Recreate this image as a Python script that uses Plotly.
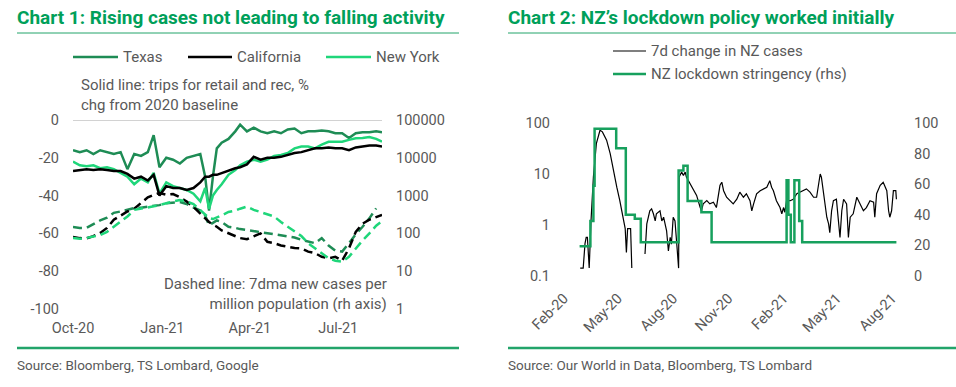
import plotly.graph_objects as go

# ---------------- DATA ----------------
# Chart 1: weekly observations
c1_dates = ["2020-10-01","2020-10-08","2020-10-15","2020-10-22","2020-10-29","2020-11-05","2020-11-12",
            "2020-11-19","2020-11-26","2020-12-03","2020-12-10","2020-12-17","2020-12-23","2020-12-29",
            "2021-01-05","2021-01-12","2021-01-19","2021-01-26","2021-02-02","2021-02-09","2021-02-14",
            "2021-02-18","2021-02-22","2021-02-26","2021-03-03","2021-03-10","2021-03-17","2021-03-22",
            "2021-03-29","2021-04-05","2021-04-12","2021-04-19","2021-04-26","2021-05-03","2021-05-10",
            "2021-05-17","2021-05-24","2021-05-31","2021-06-07","2021-06-14","2021-06-21","2021-06-28",
            "2021-07-05","2021-07-12","2021-07-19","2021-07-26","2021-08-02","2021-08-09","2021-08-15"]

texas_trips = [-16,-17,-16,-18,-16,-17,-18,-17,-26,-18,-19,-17,-8,-25,-20,-21,-23,-20,-19,-18,-30,
               -48,-30,-15,-12,-10,-6,-2.5,-6,-4,-6,-7,-6,-7,-5,-4.5,-7,-6,-6,-5.5,-6,-7,-7,-9.5,
               -7,-6.5,-6.5,-6,-6.5]
california_trips = [-27,-26.5,-26,-26.5,-26,-26.5,-27,-27,-28.5,-31,-30,-32,-29,-40,-35,-36,-36,-37,-36,
                    -33,-30,-30,-29,-29,-28,-26.5,-25.5,-25,-23.5,-19.5,-21,-20,-20,-19.5,-18.5,-17.5,
                    -17,-16,-15,-15,-14.5,-15,-15,-16,-14.5,-14,-13.5,-13.5,-14]
newyork_trips = [-22,-24,-24.5,-24,-25.5,-25,-26,-28,-30,-34,-31,-33,-28,-39,-33,-35,-36,-37,-39,-43,
                 -36,-47,-40,-37,-34,-29,-26.5,-24,-22,-21,-22,-21,-19,-18.5,-17.5,-15,-14,-14,-15,
                 -13,-11.5,-11.5,-11.5,-10.5,-9.7,-9.5,-9,-10,-11.5]

texas_cases = [148,140,140,180,220,260,350,380,420,470,480,500,520,560,630,650,680,600,500,400,300,
               165,190,220,200,150,140,130,123,115,110,105,95,90,85,78,68,60,55,75,48,35,33,55,95,
               150,250,460,None]
california_cases = [81,75,74,85,103,140,230,300,380,450,650,900,1050,1170,1050,1100,900,700,500,330,
                    260,200,170,150,120,100,85,75,70,85,100,60,55,48,44,41,40,33,30,24,22,24,19,40,
                    110,180,230,270,310]
newyork_cases = [76,72,76,82,90,110,150,200,280,420,460,500,520,560,630,700,760,700,600,420,320,255,
                 240,260,300,370,400,450,510,420,370,330,280,200,150,110,85,55,40,30,22,19,18,24,40,
                 65,100,160,210]

c1_left_ticks = [-100, -80, -60, -40, -20, 0]
c1_right_ticks = [1, 10, 100, 1000, 10000, 100000]

# Chart 2: NZ 7-day average new cases (None = zero cases, gap on log axis)
nz_case_dates = ["2020-02-28","2020-03-04","2020-03-07","2020-03-09","2020-03-11","2020-03-13","2020-03-14",
                 "2020-03-17","2020-03-21","2020-03-26","2020-04-01","2020-04-05","2020-04-12","2020-04-18",
                 "2020-04-23","2020-04-29","2020-05-04","2020-05-10","2020-05-13","2020-05-15","2020-05-17",
                 "2020-05-22","2020-05-24","2020-06-01",
                 "2020-06-15","2020-06-18","2020-06-23","2020-06-26","2020-06-29","2020-07-02","2020-07-04",
                 "2020-07-10","2020-07-13","2020-07-16","2020-07-21","2020-07-24","2020-07-27","2020-07-29",
                 "2020-08-01","2020-08-04","2020-08-07","2020-08-10","2020-08-11","2020-08-15","2020-08-18",
                 "2020-08-21","2020-08-23","2020-08-29","2020-09-04","2020-09-09","2020-09-15","2020-09-17",
                 "2020-09-20","2020-09-26","2020-10-01","2020-10-07","2020-10-12","2020-10-18","2020-10-21",
                 "2020-10-24","2020-10-29","2020-11-04","2020-11-09","2020-11-15","2020-11-20","2020-11-26",
                 "2020-12-01","2020-12-07","2020-12-10","2020-12-13","2020-12-18","2020-12-24","2020-12-29",
                 "2021-01-04","2021-01-09","2021-01-12","2021-01-15","2021-01-20","2021-01-26","2021-01-29",
                 "2021-02-01","2021-02-03","2021-02-06","2021-02-12","2021-02-17","2021-02-23","2021-02-28",
                 "2021-03-06","2021-03-11","2021-03-17","2021-03-23","2021-03-28","2021-04-03","2021-04-05",
                 "2021-04-08","2021-04-14","2021-04-17","2021-04-19","2021-04-22","2021-04-25","2021-04-30",
                 "2021-05-06","2021-05-09","2021-05-12","2021-05-17","2021-05-20","2021-05-23","2021-05-28",
                 "2021-06-03","2021-06-08","2021-06-14","2021-06-19","2021-06-25","2021-07-01","2021-07-03",
                 "2021-07-06","2021-07-12","2021-07-17","2021-07-23","2021-07-26","2021-07-28","2021-07-31",
                 "2021-08-03","2021-08-07","2021-08-08"]
nz_cases = [0.143,0.143,0.43,0.57,0.57,0.143,0.143,
            1.2,8.7,40,72,67,46,25,
            11.7,5.5,3.0,1.2,0.85,0.29,0.85,
            0.85,0.143,None,
            0.27,1.05,1.9,2.07,1.66,1.2,1.66,
            1.9,1.2,1.42,0.77,0.31,0.57,0.42,
            1.42,1.2,0.42,0.143,8.7,10.9,9.4,
            10.9,8.7,6.4,4.7,3.8,2.2,1.9,
            2.6,3.0,2.6,2.8,2.2,6.0,6.9,
            4.7,3.5,3.0,2.6,3.2,4.4,3.5,
            4.1,3.0,1.9,2.6,4.1,4.7,5.1,
            5.5,7.4,5.5,4.7,3.0,2.2,1.66,
            2.2,1.78,3.0,3.0,3.2,4.1,4.4,
            4.7,5.1,4.4,3.5,3.5,10,8.7,
            4.7,1.42,1.05,0.71,1.9,3.0,3.2,
            0.57,1.9,3.2,2.6,0.57,1.42,1.66,
            3.5,2.6,1.9,2.2,3.0,2.8,1.42,
            4.1,6.0,6.9,4.7,1.9,1.42,1.9,
            4.7,4.7,3.2]

# NZ stringency index (step changes)
nz_str_dates = ["2020-02-27","2020-03-16","2020-03-21","2020-03-23","2020-04-28","2020-05-14","2020-05-29",
                "2020-06-08","2020-08-10","2020-08-18","2020-08-25","2020-09-17","2020-10-04","2021-02-06",
                "2021-02-09","2021-02-13","2021-02-19","2021-02-27","2021-03-04","2021-08-08"]
nz_stringency = [19.4,36,59,96.3,83.5,40,37.5,22,69,72,49,41.7,22,62.6,40,22,62.6,36,22,22]

c2_left_ticks = [0.1, 1, 10, 100]
c2_right_ticks = [0, 20, 40, 60, 80, 100]

# ---------------- STYLE ----------------
W, H = 956, 387
def px(x): return x / W
def py(y): return 1 - y / H

FONT = "Roboto"
GREY = "#595959"
TITLE_GREEN = "#00A05A"
TX_COLOR = "#1E8C55"
CA_COLOR = "#000000"
NY_COLOR = "#1FD67A"
STR_COLOR = "#17A05D"
RULE = "#22A46A"

fig = go.Figure()

# Chart 1 solid (left axis)
for vals, col, nm in [(texas_trips, TX_COLOR, "Texas"), (newyork_trips, NY_COLOR, "New York"),
                      (california_trips, CA_COLOR, "California")]:
    fig.add_trace(go.Scatter(x=c1_dates, y=vals, mode="lines", name=nm, showlegend=False,
                             line=dict(color=col, width=2.5), xaxis="x", yaxis="y"))
# Chart 1 dashed (right log axis)
for vals, col, nm in [(texas_cases, TX_COLOR, "Texas cases"), (california_cases, CA_COLOR, "California cases"),
                      (newyork_cases, NY_COLOR, "New York cases")]:
    fig.add_trace(go.Scatter(x=c1_dates, y=vals, mode="lines", name=nm, showlegend=False,
                             line=dict(color=col, width=2.5, dash="9px,5px"), xaxis="x", yaxis="y2"))

# Chart 2
fig.add_trace(go.Scatter(x=nz_case_dates, y=nz_cases, mode="lines", name="7d change in NZ cases",
                         showlegend=False, connectgaps=False,
                         line=dict(color="#000000", width=1.2), xaxis="x2", yaxis="y3"))
fig.add_trace(go.Scatter(x=nz_str_dates, y=nz_stringency, mode="lines", name="NZ lockdown stringency (rhs)",
                         showlegend=False, line=dict(color=STR_COLOR, width=2.5, shape="hv"),
                         xaxis="x2", yaxis="y4"))

tickfont = dict(family=FONT, size=14.5, color=GREY)
common = dict(showgrid=False, zeroline=False, showline=False, ticks="", tickfont=tickfont, automargin=False)

fig.update_layout(
    width=W, height=H, margin=dict(l=0, r=0, t=0, b=0, pad=0),
    paper_bgcolor="white", plot_bgcolor="white",
    font=dict(family=FONT, color=GREY),
    xaxis=dict(domain=[px(73), px(382)], range=["2020-10-01", "2021-08-15"], anchor="y",
               tick0="2020-10-01", dtick="M3", tickformat="%b-%y", ticklabelstandoff=8, **common),
    yaxis=dict(domain=[py(309), py(120)], range=[-100, 0], anchor="x", tickvals=c1_left_ticks,
               ticktext=[str(v) for v in c1_left_ticks], ticklabelstandoff=13, **common),
    yaxis2=dict(overlaying="y", side="right", type="log", range=[0, 5], anchor="x",
                tickvals=c1_right_ticks, ticktext=[str(v) for v in c1_right_ticks],
                ticklabelstandoff=13, **common),
    xaxis2=dict(domain=[px(564), px(900)], range=["2020-02-01", "2021-08-14"], anchor="y3",
                tick0="2020-02-01", dtick="M3", tickformat="%b-%y", tickangle=-45,
                ticklabelstandoff=10, **common),
    yaxis3=dict(domain=[py(276), py(123)], type="log", range=[-1, 2], anchor="x2",
                tickvals=c2_left_ticks, ticktext=[str(v) for v in c2_left_ticks],
                ticklabelstandoff=13, **common),
    yaxis4=dict(overlaying="y3", side="right", range=[0, 100], anchor="x2", tickvals=c2_right_ticks,
                ticktext=[str(v) for v in c2_right_ticks], ticklabelstandoff=13, **common),
)

shapes = []
# zero line chart 1
shapes.append(dict(type="line", xref="x domain", yref="y", x0=0, x1=1, y0=0, y1=0,
                   line=dict(color="#A6A6A6", width=1)))
# title rules
shapes.append(dict(type="line", xref="paper", yref="paper", x0=px(17), x1=px(459), y0=py(33), y1=py(33),
                   line=dict(color=RULE, width=1)))
shapes.append(dict(type="line", xref="paper", yref="paper", x0=px(508), x1=px(956), y0=py(33), y1=py(33),
                   line=dict(color=RULE, width=1)))
# bottom rules
shapes.append(dict(type="line", xref="paper", yref="paper", x0=px(17), x1=px(459), y0=py(348), y1=py(348),
                   line=dict(color=RULE, width=2.5)))
shapes.append(dict(type="line", xref="paper", yref="paper", x0=px(508), x1=px(956), y0=py(348), y1=py(348),
                   line=dict(color=RULE, width=2.5)))
# legend keys chart 1
for x0, x1, col in [(73, 118, TX_COLOR), (188, 232, CA_COLOR), (326, 371, NY_COLOR)]:
    shapes.append(dict(type="line", xref="paper", yref="paper", x0=px(x0), x1=px(x1), y0=py(57), y1=py(57),
                       line=dict(color=col, width=2.5)))
# legend keys chart 2
shapes.append(dict(type="line", xref="paper", yref="paper", x0=px(613), x1=px(646), y0=py(51), y1=py(51),
                   line=dict(color="#000000", width=1.2)))
shapes.append(dict(type="line", xref="paper", yref="paper", x0=px(613), x1=px(646), y0=py(74), y1=py(74),
                   line=dict(color=STR_COLOR, width=2.5)))

annotations = []
def ann(text, x, y, size=14, color=GREY, xanchor="left", bold=False, align="left"):
    annotations.append(dict(text=text, x=px(x), y=py(y), xref="paper", yref="paper", showarrow=False,
                            xanchor=xanchor, yanchor="middle", align=align,
                            font=dict(family=FONT, size=size, color=color,
                                      weight="bold" if bold else "normal")))

ann("Chart 1: Rising cases not leading to falling activity", 15, 18, size=19, color=TITLE_GREEN, bold=True)
ann("Chart 2: NZ\u2019s lockdown policy worked initially", 506, 18, size=19, color=TITLE_GREEN, bold=True)
ann("Texas", 121, 57, size=15)
ann("California", 235, 57, size=15)
ann("New York", 374, 57, size=15)
ann("7d change in NZ cases", 649, 51, size=15)
ann("NZ lockdown stringency (rhs)", 649, 74, size=15)
annotations.append(dict(text="Solid line: trips for retail and rec, %<br>chg from 2020 baseline",
                        x=px(79), y=py(95), xref="paper", yref="paper", showarrow=False,
                        xanchor="left", yanchor="middle", align="left",
                        font=dict(family=FONT, size=15, color=GREY)))
annotations.append(dict(text="Dashed line: 7dma new cases per<br>million population (rh axis)",
                        x=px(389), y=py(294), xref="paper", yref="paper", showarrow=False,
                        xanchor="right", yanchor="middle", align="right",
                        font=dict(family=FONT, size=15, color=GREY)))
ann("Source: Bloomberg, TS Lombard, Google", 15, 365, size=13.5)
ann("Source: Our World in Data, Bloomberg, TS Lombard", 506, 365, size=13.5)

fig.update_layout(shapes=shapes, annotations=annotations)
fig.write_html("out.html", config={"displayModeBar": False},
               post_script="document.body.style.margin='0';document.body.style.overflow='hidden';")
